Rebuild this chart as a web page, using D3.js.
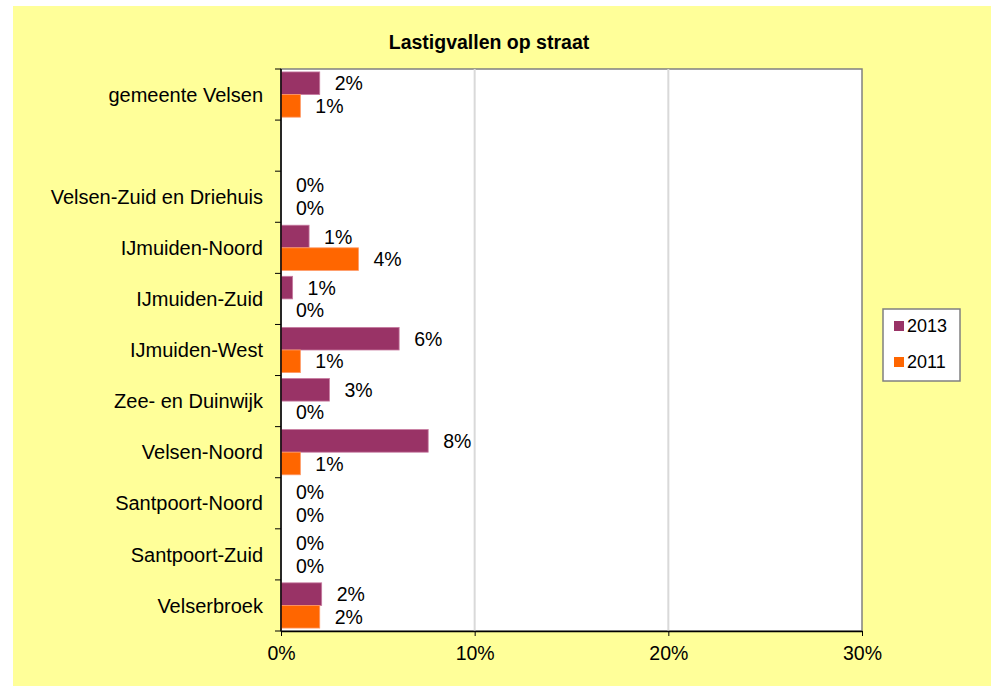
<!DOCTYPE html>
<html lang="nl">
<head>
<meta charset="utf-8">
<title>Lastigvallen op straat</title>
<script src="https://d3js.org/d3.v7.min.js"></script>
<style>
  body { margin: 0; background: #fff; }
  svg text { font-family: Arial, "Liberation Sans", sans-serif; fill: #000; }
</style>
</head>
<body>
<script>
// data (percent)
var wijken = ["gemeente Velsen", "", "Velsen-Zuid en Driehuis", "IJmuiden-Noord",
  "IJmuiden-Zuid", "IJmuiden-West", "Zee- en Duinwijk", "Velsen-Noord",
  "Santpoort-Noord", "Santpoort-Zuid", "Velserbroek"];
var jaren = ["2013", "2011"];
var waarden2013 = [2.0, null, 0, 1.45, 0.6, 6.1, 2.5, 7.6, 0, 0, 2.1];
var waarden2011 = [1.0, null, 0, 4.0, 0, 1.0, 0, 1.0, 0, 0, 2.0];
var xTicks = [0, 10, 20, 30];
var kleuren = ["#993366", "#FF6600"];

var w = 991, h = 686;
var plot = {left: 281, top: 69, right: 862, bottom: 631};

var svg = d3.select("body").append("svg")
    .attr("width", w).attr("height", h);

// yellow chart area
svg.append("rect")
    .attr("x", 13).attr("y", 6)
    .attr("width", w - 13).attr("height", h - 6)
    .attr("fill", "#FFFF99");

svg.append("rect")
    .attr("x", plot.left).attr("y", plot.top)
    .attr("width", plot.right - plot.left).attr("height", plot.bottom - plot.top)
    .attr("fill", "#fff")
    .attr("stroke", "#808080").attr("stroke-width", 1.5);

var x = d3.scaleLinear().domain([0, 30]).range([plot.left, plot.right]);
var y = d3.scaleBand().domain(d3.range(wijken.length))
    .range([plot.top, plot.bottom]).paddingInner(0).paddingOuter(0);
var inner = d3.scaleBand().domain(jaren)
    .range([0, y.bandwidth()]).paddingOuter(0.13).paddingInner(0);

// gridlines
svg.append("g").selectAll("line")
    .data(xTicks.slice(1, -1))
    .enter().append("line")
    .attr("x1", function(d) { return x(d); })
    .attr("x2", function(d) { return x(d); })
    .attr("y1", plot.top).attr("y2", plot.bottom)
    .attr("stroke", "#d9d9d9").attr("stroke-width", 2);

// bars
var series = [waarden2013, waarden2011];
series.forEach(function(vals, s) {
  var g = svg.append("g");
  var rows = vals.map(function(v, i) { return {i: i, v: v}; })
      .filter(function(d) { return d.v !== null; });
  g.selectAll("rect")
      .data(rows.filter(function(d) { return d.v > 0; }))
      .enter().append("rect")
      .attr("x", x(0))
      .attr("y", function(d) { return y(d.i) + inner(jaren[s]); })
      .attr("width", function(d) { return x(d.v) - x(0); })
      .attr("height", inner.bandwidth())
      .attr("fill", kleuren[s])
      .attr("stroke", s == 0 ? "#c77aa0" : "#ff9966")
      .attr("stroke-width", 0.8);
  g.selectAll("text")
      .data(rows)
      .enter().append("text")
      .attr("x", function(d) { return x(d.v) + 15; })
      .attr("y", function(d) { return y(d.i) + inner(jaren[s]) + inner.bandwidth() / 2; })
      .attr("dy", "0.36em")
      .attr("font-size", "19.5px")
      .text(function(d) { return Math.round(d.v) + "%"; });
});

// y axis
var ya = svg.append("g");
ya.append("line")
    .attr("x1", plot.left).attr("x2", plot.left)
    .attr("y1", plot.top).attr("y2", plot.bottom)
    .attr("stroke", "#000").attr("stroke-width", 1.5);
ya.selectAll("line.tick")
    .data(d3.range(wijken.length + 1))
    .enter().append("line")
    .attr("class", "tick")
    .attr("x1", plot.left - 6).attr("x2", plot.left)
    .attr("y1", function(d) { return plot.top + d * y.step(); })
    .attr("y2", function(d) { return plot.top + d * y.step(); })
    .attr("stroke", "#000").attr("stroke-width", 1);
ya.selectAll("text")
    .data(wijken)
    .enter().append("text")
    .attr("x", 263)
    .attr("y", function(d, i) { return y(i) + y.bandwidth() / 2; })
    .attr("dy", "0.36em")
    .attr("text-anchor", "end")
    .attr("font-size", "20px")
    .text(function(d) { return d; });

// x axis
var xAxis = d3.axisBottom(x).tickValues(xTicks)
    .tickFormat(function(d) { return d + "%"; })
    .tickSize(5).tickSizeOuter(0).tickPadding(10);
var xa = svg.append("g")
    .attr("transform", "translate(0," + plot.bottom + ")")
    .call(xAxis);
xa.select(".domain").attr("stroke", "#000").attr("stroke-width", 1.5);
xa.selectAll(".tick line").attr("stroke", "#000");
xa.selectAll(".tick text").attr("font-size", "19.5px")
    .attr("font-family", "Arial, 'Liberation Sans', sans-serif").attr("fill", "#000");

// title
svg.append("text")
    .attr("x", 489).attr("y", 49)
    .attr("text-anchor", "middle")
    .attr("font-size", "19.5px").attr("font-weight", "bold")
    .text("Lastigvallen op straat");

// legend
var lg = svg.append("g");
lg.append("rect")
    .attr("x", 883).attr("y", 309).attr("width", 77).attr("height", 72)
    .attr("fill", "#fff").attr("stroke", "#808080").attr("stroke-width", 1.5);
var items = lg.selectAll("g.item").data(jaren).enter().append("g")
    .attr("transform", function(d, i) { return "translate(894," + (326 + i * 36) + ")"; });
items.append("rect")
    .attr("x", 0).attr("y", -5).attr("width", 10).attr("height", 10)
    .attr("fill", function(d, i) { return kleuren[i]; });
items.append("text")
    .attr("x", 13).attr("dy", "0.36em")
    .attr("font-size", "18px")
    .text(function(d) { return d; });
</script>
</body>
</html>
